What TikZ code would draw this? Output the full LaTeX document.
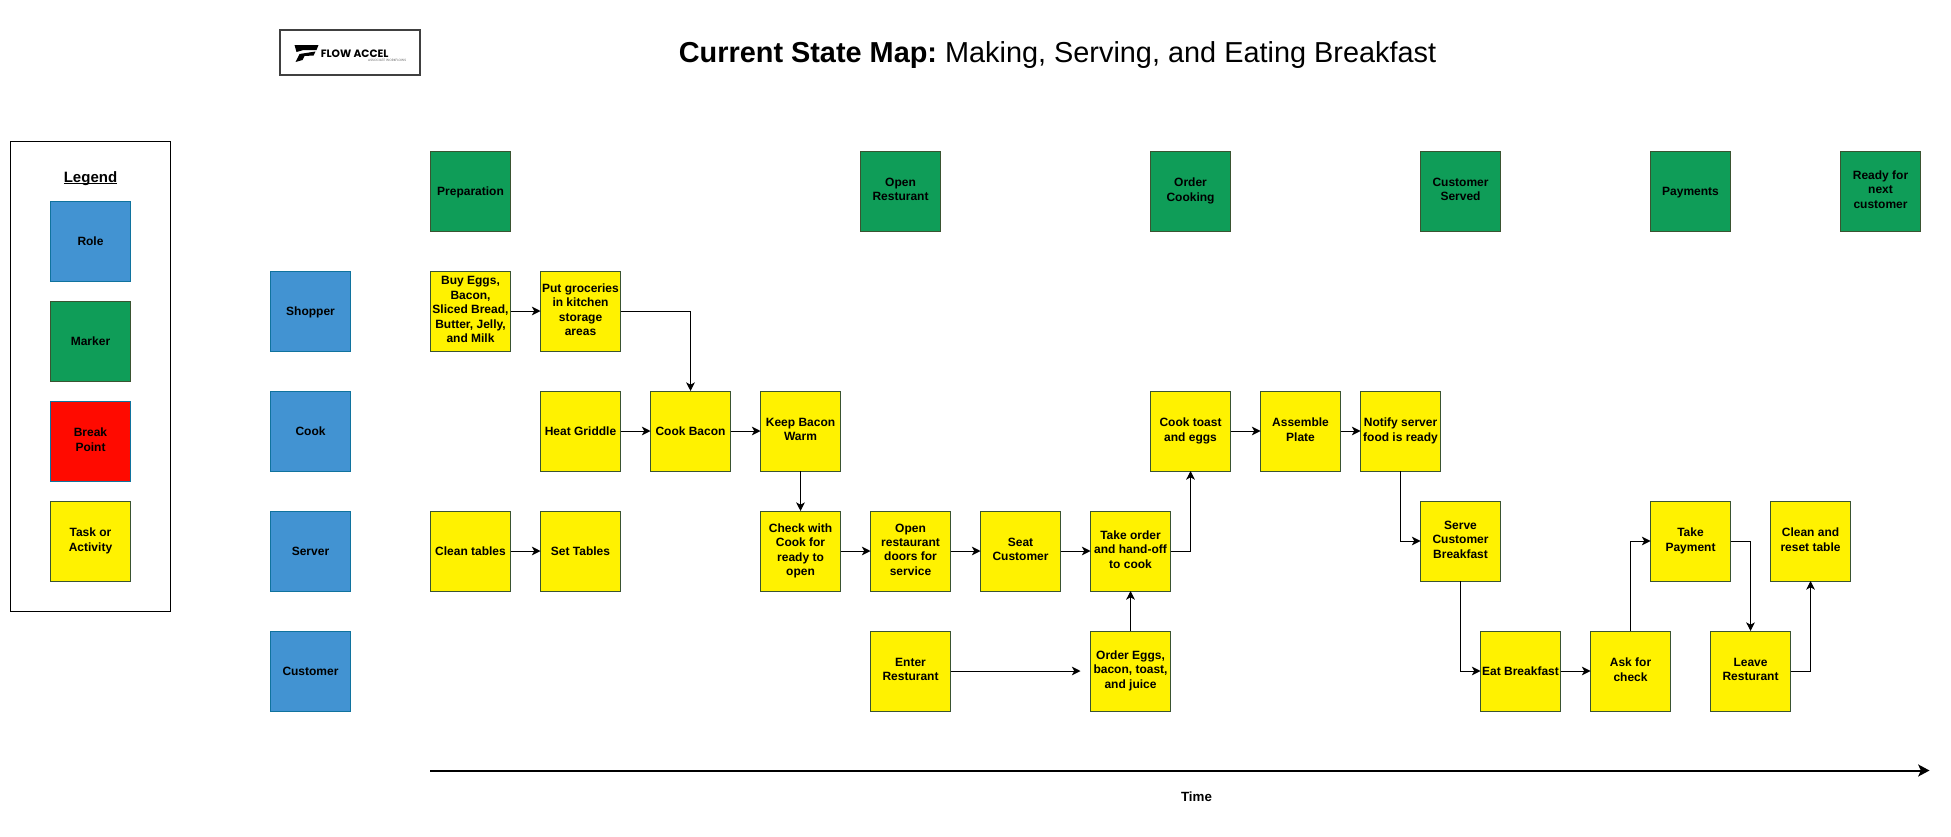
\documentclass[tikz,border=0pt]{standalone}
\usepackage{fontspec}
\setmainfont{Liberation Sans}
\newfontfamily\logofont{Poppins}
\usetikzlibrary{arrows.meta,calc}
\definecolor{rolefill}{HTML}{4293D2}
\definecolor{roleline}{HTML}{10739E}
\definecolor{markfill}{HTML}{0F9D58}
\definecolor{darkline}{HTML}{3A5431}
\definecolor{taskfill}{HTML}{FFF200}
\definecolor{breakfill}{HTML}{FF0A00}
\newcommand{\boxstrut}{\rule[-2.3pt]{0pt}{10.8pt}}
\newcommand{\legendul}[1]{\setbox0\hbox{#1}\rlap{\rule[-1.4pt]{\wd0}{0.8pt}}\box0}
\tikzset{
  box/.style={draw,line width=0.75pt,minimum width=60pt,minimum height=60pt,inner sep=0pt,outer sep=0pt,align=center,font=\fontsize{9}{10.8}\selectfont\bfseries,text=black,execute at begin node=\boxstrut,execute at end node=\boxstrut},
  role/.style={box,fill=rolefill,draw=roleline},
  marker/.style={box,fill=markfill,draw=darkline},
  task/.style={box,fill=taskfill,draw=darkline},
  breakpt/.style={box,fill=breakfill,draw=roleline},
  flow/.style={draw=black,line width=0.75pt,-{Stealth[length=6.5pt,width=6.5pt,inset=1.8pt]}},
  timeline/.style={draw=black,line width=1.5pt,-{Stealth[length=8.5pt,width=9pt,inset=2pt]}}
}
\begin{document}
\frenchspacing
\begin{tikzpicture}[x=0.75pt,y=-0.75pt]
\useasboundingbox (-0.5,-1) rectangle (1950.5,835);
% title and logo
\node[anchor=base,inner sep=0pt,font=\fontsize{21.65}{25}\selectfont] (title) at (1057,61) {\textbf{Current State Map:} Making, Serving, and Eating Breakfast};
\node[draw=black!75,line width=1.2pt,fill=white,minimum width=105pt,minimum height=33.75pt,inner sep=0pt,outer sep=0pt] (logo) at (349.7,51.7) {};
\fill[black] (294,44) -- (318,44) -- (316,49) -- (303,49) -- (296,51) -- cycle;
\fill[black] (295,61) -- (299,53) -- (315,50.5) -- (313,54.5) -- (304,55) -- (302,59) -- cycle;
\node[anchor=west,inner sep=0pt,font=\logofont\fontsize{8}{9}\selectfont\bfseries] (logotext) at (320,52.3) {FLOW ACCEL};
\node[anchor=east,inner sep=0pt,text=black!60,font=\logofont\fontsize{2.4}{3}\selectfont] (logosub) at (406,59.7) {ASSOCIATE WORKFLOWS};
% legend
\node[draw=black,line width=0.75pt,minimum width=120pt,minimum height=352.5pt,inner sep=0pt,outer sep=0pt] (legend) at (90,375) {};
\node[anchor=base,font=\fontsize{11.25}{13}\selectfont\bfseries,inner sep=0pt] (legendtitle) at (90,181) {\legendul{Legend}};
\node[role] (lrole) at (90,240) {Role};
\node[marker] (lmark) at (90,340) {Marker};
\node[breakpt] (lbreak) at (90,440) {Break\\Point};
\node[task] (ltask) at (90,540) {Task or\\Activity};
% markers
\node[marker] (m1) at (470,190) {Preparation};
\node[marker] (m2) at (900,190) {Open\\Resturant};
\node[marker] (m3) at (1190,190) {Order\\Cooking};
\node[marker] (m4) at (1460,190) {Customer\\Served};
\node[marker] (m5) at (1690,190) {Payments};
\node[marker] (m6) at (1880,190) {Ready for\\next\\customer};
% roles
\node[role] (shopper) at (310,310) {Shopper};
\node[role] (cook) at (310,430) {Cook};
\node[role] (server) at (310,550) {Server};
\node[role] (customer) at (310,670) {Customer};
% tasks
\node[task] (buy) at (470,310) {Buy Eggs,\\Bacon,\\Sliced Bread,\\Butter, Jelly,\\and Milk};
\node[task] (put) at (580,310) {Put groceries\\in kitchen\\storage\\areas};
\node[task] (heat) at (580,430) {Heat Griddle};
\node[task] (bacon) at (690,430) {Cook Bacon};
\node[task] (keep) at (800,430) {Keep Bacon\\Warm};
\node[task] (clean) at (470,550) {Clean tables};
\node[task] (set) at (580,550) {Set Tables};
\node[task] (check) at (800,550) {Check with\\Cook for\\ready to\\open};
\node[task] (open) at (910,550) {Open\\restaurant\\doors for\\service};
\node[task] (seat) at (1020,550) {Seat\\Customer};
\node[task] (take) at (1130,550) {Take order\\and hand-off\\to cook};
\node[task] (enter) at (910,670) {Enter\\Resturant};
\node[task] (order) at (1130,670) {Order Eggs,\\bacon, toast,\\and juice};
\node[task] (toast) at (1190,430) {Cook toast\\and eggs};
\node[task] (plate) at (1300,430) {Assemble\\Plate};
\node[task] (notify) at (1400,430) {Notify server\\food is ready};
\node[task] (serve) at (1460,540) {Serve\\Customer\\Breakfast};
\node[task] (eat) at (1520,670) {Eat Breakfast};
\node[task] (ask) at (1630,670) {Ask for\\check};
\node[task] (pay) at (1690,540) {Take\\Payment};
\node[task] (reset) at (1810,540) {Clean and\\reset table};
\node[task] (leave) at (1750,670) {Leave\\Resturant};
% connectors
\coordinate (orderin) at (1080,670);
\draw[flow] (buy) -- (put);
\draw[flow] (put.east) -| (bacon.north);
\draw[flow] (heat) -- (bacon);
\draw[flow] (bacon) -- (keep);
\draw[flow] (keep) -- (check);
\draw[flow] (clean) -- (set);
\draw[flow] (check) -- (open);
\draw[flow] (open) -- (seat);
\draw[flow] (seat) -- (take);
\draw[flow] (take.east) -| (toast.south);
\draw[flow] (order) -- (take);
\draw[flow] (enter.east) -- (orderin);
\draw[flow] (toast) -- (plate);
\draw[flow] (plate) -- (notify);
\draw[flow] (notify.south) |- (serve.west);
\draw[flow] (serve.south) |- (eat.west);
\draw[flow] (eat) -- (ask);
\draw[flow] (ask.north) |- (pay.west);
\draw[flow] (pay.east) -| (leave.north);
\draw[flow] (leave.east) -| (reset.south);
% time axis
\coordinate (tstart) at (429.5,769.5);
\coordinate (tend) at (1929,769.5);
\draw[timeline] (tstart) -- (tend);
\node[font=\fontsize{10}{12}\selectfont\bfseries,inner sep=0pt] (time) at (1196,795.5) {Time};
\end{tikzpicture}
\end{document}
